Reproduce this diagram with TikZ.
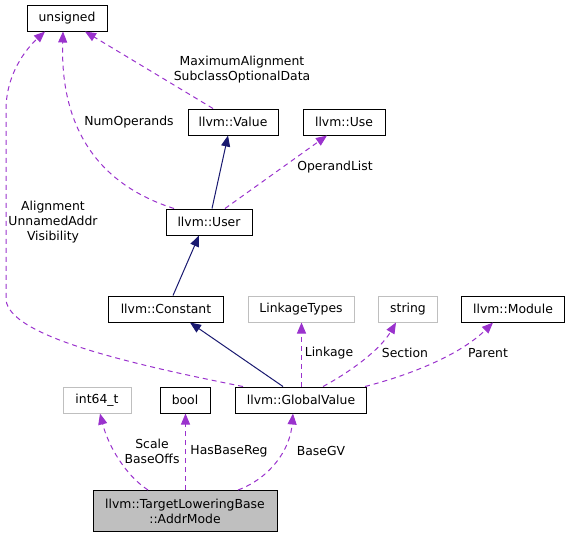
\documentclass[tikz,border=0pt]{standalone}
\usepackage{fontspec}
\setmainfont{DejaVu Sans}
\usepackage{tikz}
\usetikzlibrary{arrows.meta}
\usepackage{xcolor}
\definecolor{usagecol}{HTML}{9A32CD}
\definecolor{inhcol}{HTML}{191970}
\definecolor{undoc}{HTML}{BFBFBF}
\tikzstyle{classbox} = [draw=black, fill=white, line width=1pt, rectangle, inner sep=0pt, minimum height=26pt, font=\fontsize{12.4}{15}\selectfont]
\tikzstyle{extbox} = [classbox, draw=undoc]
\tikzstyle{mainbox} = [classbox, fill=undoc, align=center, minimum height=41pt]
\tikzstyle{lbl} = [align=center, inner sep=0pt, font=\fontsize{12.4}{15}\selectfont]
\tikzstyle{usage} = [draw=usagecol, line width=1pt, dash pattern=on 5pt off 4pt, -{Triangle[length=11pt,width=9pt]}]
\tikzstyle{inherit} = [draw=inhcol, line width=1pt, -{Triangle[length=11pt,width=9pt]}]

\begin{document}
\begin{tikzpicture}[x=1pt, y=-1pt]
\useasboundingbox (0,0) rectangle (569,539);
% classes
\node [classbox, minimum width=80pt] (uns) at (67,18) {unsigned};
\node [classbox, minimum width=90pt] (val) at (233,122) {llvm::Value};
\node [classbox, minimum width=82pt] (use) at (344,122) {llvm::Use};
\node [classbox, minimum width=86pt] (usr) at (209,222) {llvm::User};
\node [classbox, minimum width=115pt] (cst) at (166,309) {llvm::Constant};
\node [extbox, minimum width=106pt] (lkt) at (301,309) {LinkageTypes};
\node [extbox, minimum width=59pt] (str) at (408,309) {string};
\node [classbox, minimum width=103pt] (mod) at (513,309) {llvm::Module};
\node [extbox, minimum width=68pt] (i64) at (97,400) {int64\_t};
\node [classbox, minimum width=50pt] (bool) at (185,400) {bool};
\node [classbox, minimum width=131pt] (gv) at (301,400) {llvm::GlobalValue};
\node [mainbox, minimum width=184pt] (am) at (185,511) {llvm::TargetLoweringBase\\::AddrMode};

% inheritance
\draw [inherit] ([xshift=3pt]usr.north) -- ([xshift=-5pt]val.south);
\draw [inherit] ([xshift=7pt]cst.north) -- ([xshift=-10pt]usr.south);
\draw [inherit] ([xshift=-18pt]gv.north) -- ([xshift=24pt]cst.south);

% usage
\draw [usage] ([xshift=-20pt]val.north) -- ([xshift=18pt]uns.south);
\draw [usage] ([xshift=-35pt]usr.north) .. controls (100,185) and (60,130) .. ([xshift=-4pt]uns.south);
\draw [usage] ([xshift=16pt]usr.north) -- ([xshift=-17pt]use.south);
\draw [usage] ([xshift=8pt]gv.north west) .. controls (120,362) and (10,335) .. (6,300)
    -- (6,110) .. controls (6,75) and (25,50) .. ([xshift=-22pt]uns.south);
\draw [usage] ([xshift=0.5pt]gv.north) -- ([xshift=0.5pt]lkt.south);
\draw [usage] ([xshift=22pt]gv.north) .. controls (350,372) and (380,350) .. ([xshift=-12pt]str.south);
\draw [usage] ([xshift=-2pt]gv.north east) .. controls (410,375) and (460,355) .. ([xshift=-20pt]mod.south);
\draw [usage] ([xshift=-37pt]am.north) .. controls (125,475) and (108,445) .. ([xshift=3pt]i64.south);
\draw [usage] ([xshift=0.5pt]am.north) -- ([xshift=0.5pt]bool.south);
\draw [usage] ([xshift=53pt]am.north) .. controls (270,478) and (290,450) .. ([xshift=-8pt]gv.south);

% labels
\node [lbl] (lmax) at (242,70) {MaximumAlignment\\SubclassOptionalData};
\node [lbl] (lnum) at (129,122) {NumOperands};
\node [lbl] (lops) at (335,167) {OperandList};
\node [lbl] (lali) at (53,222) {Alignment\\UnnamedAddr\\Visibility};
\node [lbl] (llnk) at (329,353) {Linkage};
\node [lbl] (lsec) at (405,353) {Section};
\node [lbl] (lpar) at (488,353) {Parent};
\node [lbl] (lsca) at (152,451) {Scale\\BaseOffs};
\node [lbl] (lhbr) at (229,451) {HasBaseReg};
\node [lbl] (lbgv) at (321,451) {BaseGV};
\end{tikzpicture}
\end{document}
